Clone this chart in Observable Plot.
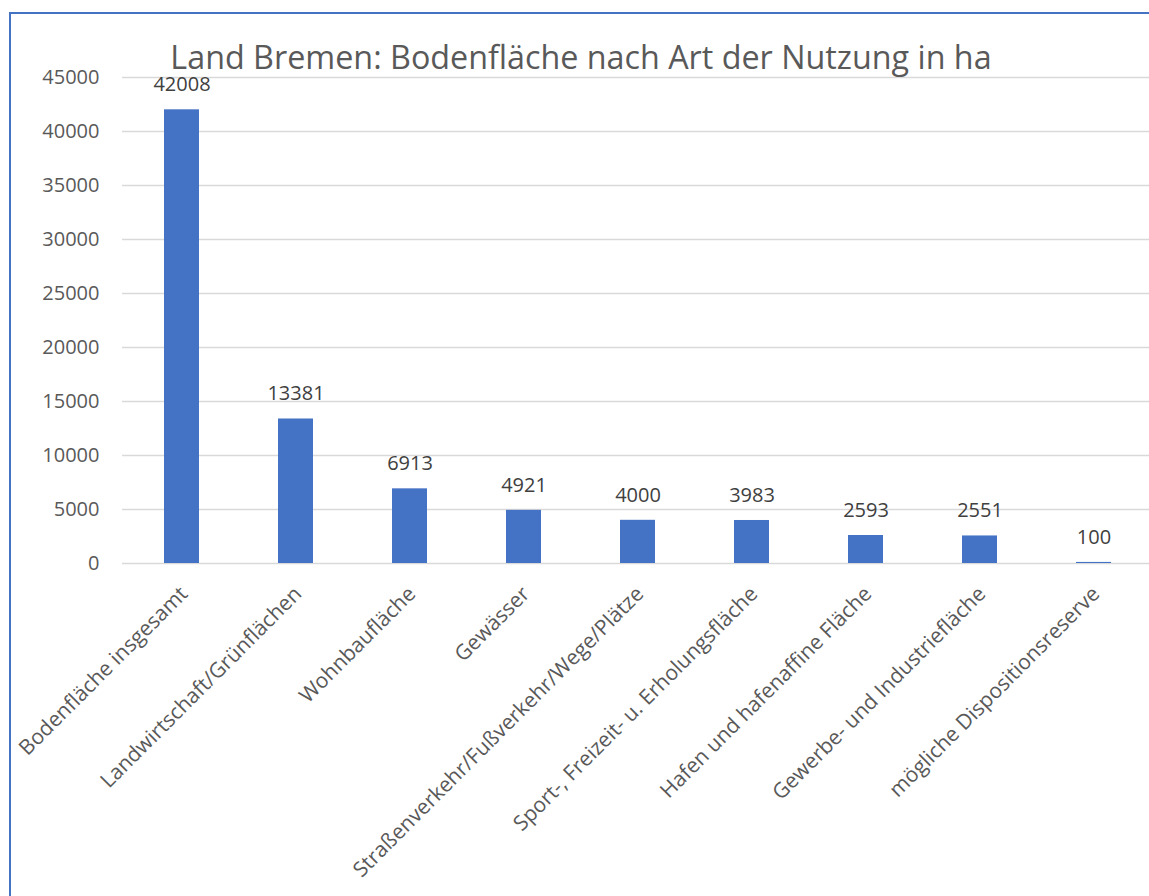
<!DOCTYPE html>
<html>
<head>
<meta charset="utf-8">
<script src="https://cdn.jsdelivr.net/npm/d3@7"></script>
<script src="https://cdn.jsdelivr.net/npm/@observablehq/plot@0.6"></script>
<style>
  html, body { margin: 0; padding: 0; background: #fff; overflow: hidden; width: 1149px; height: 896px; }
  #wrap { position: relative; width: 1149px; height: 896px; overflow: hidden; }
  #border { position: absolute; left: 9px; top: 12px; width: 1300px; height: 1000px; border: 2px solid #4472C4; box-sizing: border-box; pointer-events: none; }
  #title { position: absolute; left: 0; top: 40px; width: 1162px; text-align: center; font-family: "Open Sans", sans-serif; font-size: 32.3px; line-height: 32px; color: #595959; }
  #chart { position: absolute; left: 0; top: 0; }
</style>
</head>
<body>
<div id="wrap">
  <div id="chart"></div>
  <div id="title">Land Bremen: Bodenfläche nach Art der Nutzung in ha</div>
  <div id="border"></div>
</div>
<script>
const categories = [
  "Bodenfläche insgesamt",
  "Landwirtschaft/Grünflächen",
  "Wohnbaufläche",
  "Gewässer",
  "Straßenverkehr/Fußverkehr/Wege/Plätze",
  "Sport-, Freizeit- u. Erholungsfläche",
  "Hafen und hafenaffine Fläche",
  "Gewerbe- und Industriefläche",
  "mögliche Dispositionsreserve"
];
const values = [42008, 13381, 6913, 4921, 4000, 3983, 2593, 2551, 100];
const yTicks = [0, 5000, 10000, 15000, 20000, 25000, 30000, 35000, 40000, 45000];

const data = categories.map((c, i) => ({category: c, value: values[i]}));

const chart = Plot.plot({
  width: 1149,
  height: 896,
  marginLeft: 122,
  marginRight: 0,
  marginTop: 77,
  marginBottom: 333,
  style: {fontFamily: "Open Sans, sans-serif", fontSize: "20px", color: "#595959", background: "transparent", overflow: "visible"},
  x: {domain: categories, range: [122, 1154], paddingInner: 0.69, paddingOuter: 0.345, axis: null},
  y: {domain: [0, 45000], axis: null},
  marks: [
    Plot.ruleY(yTicks, {stroke: "#d9d9d9", strokeWidth: 1.5}),
    Plot.axisY({ticks: yTicks, tickSize: 0, tickPadding: 23, tickFormat: d => String(d), label: null, fontSize: 20, fill: "#595959"}),
    Plot.barY(data, {x: "category", y: "value", fill: "#4472C4"}),
    Plot.text(data, {x: "category", y: "value", text: d => String(d.value), dy: -25, lineAnchor: "middle", fill: "#404040", fontSize: 20}),
    Plot.text(data, {x: "category", y: () => 0, text: "category", rotate: -45, textAnchor: "end", lineAnchor: "middle", dx: 2, dy: 27, fill: "#595959", fontSize: 21})
  ]
});
document.getElementById("chart").appendChild(chart);
</script>
</body>
</html>
